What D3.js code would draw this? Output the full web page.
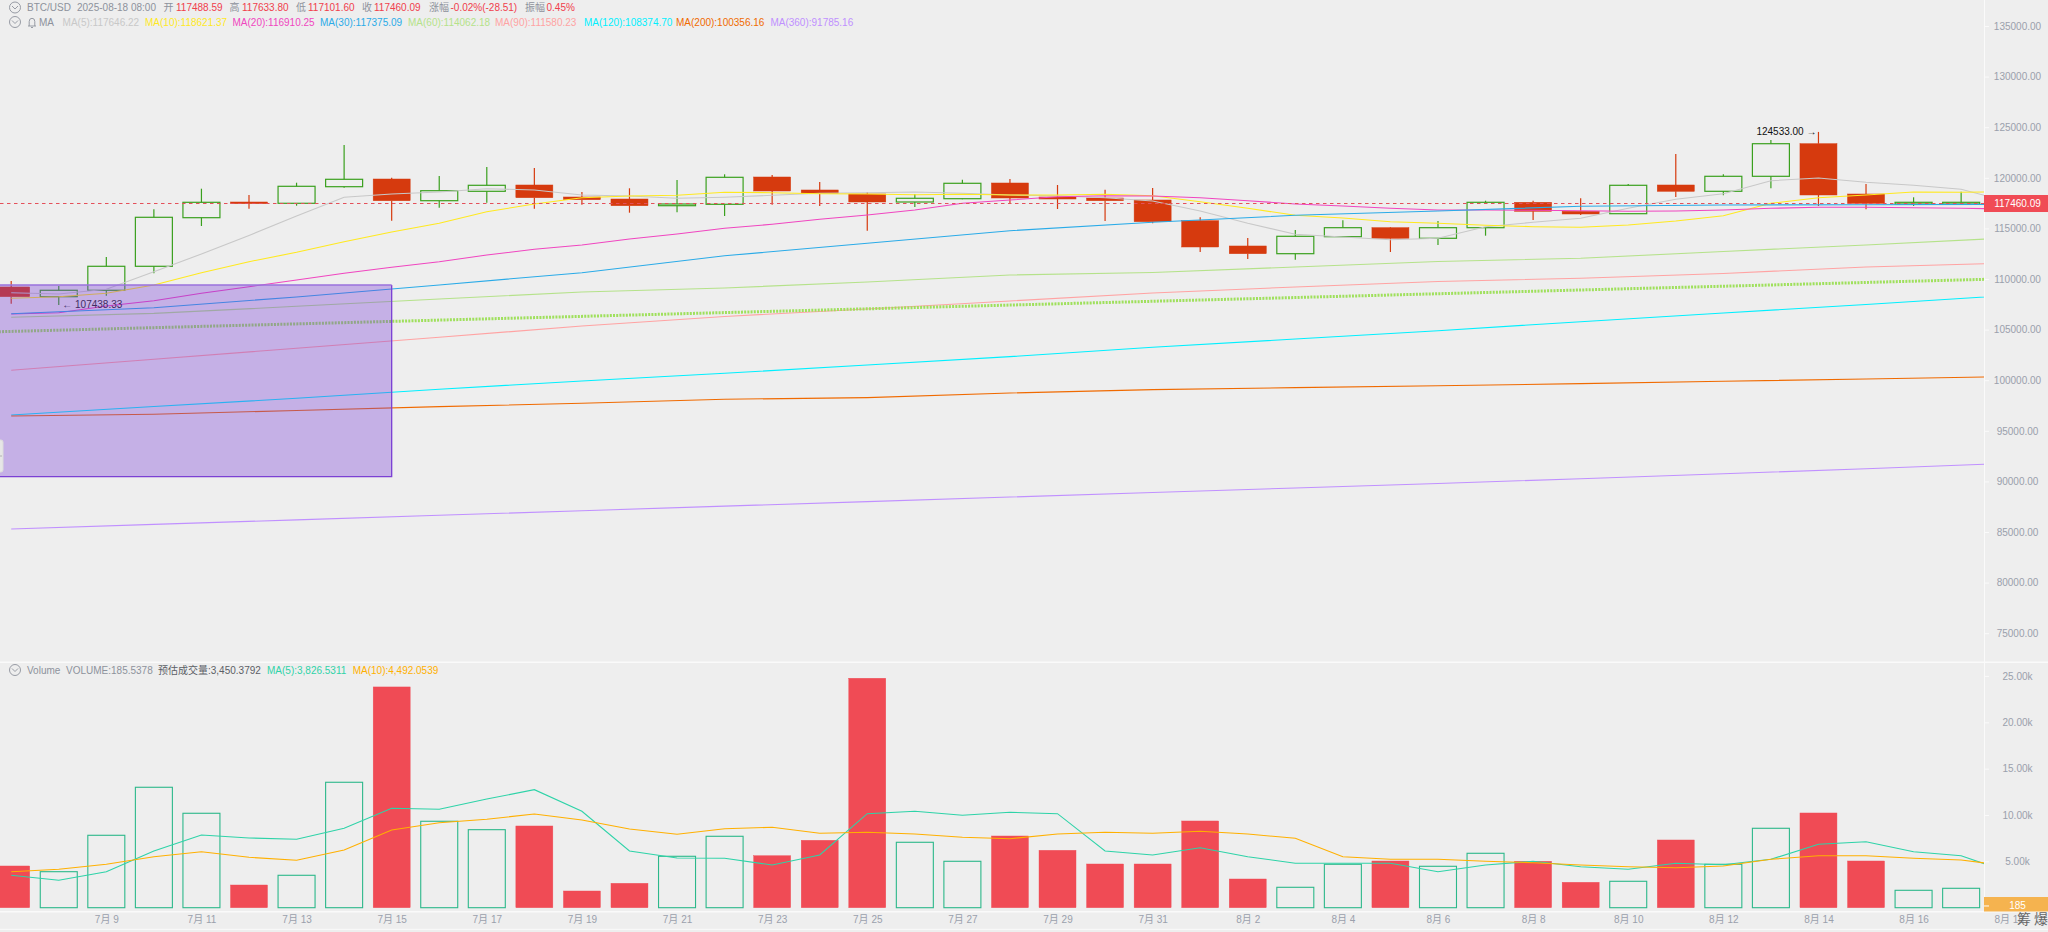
<!DOCTYPE html>
<html>
<head>
<meta charset="utf-8">
<script src="https://cdn.jsdelivr.net/npm/d3@7"></script>
<style>
  html, body { margin: 0; padding: 0; background: #eeeeee; overflow: hidden; }
  svg text { font-family: "Liberation Sans", "Noto Sans CJK SC", sans-serif; font-size: 10px; }
  .axis path, .axis line { stroke: #fafafa; }
  .axis text { fill: #9aa0ac; }
</style>
</head>
<body>
<div id="chart"></div>
<script>
// Daily candles, 7/7 to 8/18
var days = ['7月 7','7月 8','7月 9','7月 10','7月 11','7月 12','7月 13','7月 14','7月 15','7月 16','7月 17','7月 18','7月 19','7月 20','7月 21','7月 22','7月 23','7月 24','7月 25','7月 26','7月 27','7月 28','7月 29','7月 30','7月 31','8月 1','8月 2','8月 3','8月 4','8月 5','8月 6','8月 7','8月 8','8月 9','8月 10','8月 11','8月 12','8月 13','8月 14','8月 15','8月 16','8月 17','8月 18'];
var opens = [109211,108253,108885,111256,116058,117609,117481,119121,119881,117737,118666,119289,118103,117905,117243,117382,120079,118795,118399,117609,117935,119486,118103,118004,117807,115761,113262,112501,114181,115070,114023,115070,117579,116690,116453,119289,118666,120148,123369,118399,117411,117411,117488.59];
var highs = [109804,109310,112175,116888,118923,118301,119516,123241,120010,120178,121067,120968,118597,118963,119783,120346,120277,119585,118567,118399,119812,119881,119289,118824,118992,116097,114052,114843,115801,115139,115732,117737,117737,117975,119387,122351,120346,123735,124533,119387,118073,118627,117633.8];
var lows = [107561,107438.33,108351,110565,115238,116947,117243,119022,115761,117046,117540,116947,117342,116552,116591,116226,117342,117214,114773,117115,117876,117441,116917,115732,115505,112669,111977,111908,114151,112669,113361,114280,115831,116325,116423,118103,118271,118963,117214,116888,117214,117342,117101.6];
var closes = [108253,108885,111256,116097,117579,117441,119160,119852,117737,118725,119259,118034,117836,117243,117411,120049,118696,118469,117609,117975,119457,118004,117905,117737,115663,113163,112501,114220,115070,114023,115070,117579,116690,116423,119259,118666,120148,123369,118301,117481,117579,117579,117460.09];
var volumes = [4500,3884,7812,12991,10186,2449,3496,13531,23814,9323,8416,8815,1802,2633,5546,7704,5611,7272,24752,7057,5007,7736,6193,4715,4715,9355,3097,2201,4683,5039,4467,5870,5007,2741,2849,7305,4683,8567,10218,5039,1877,2093,185.5378];

// Fast moving averages, one value per day
var ma5 = [108648,108519,108984,110723,112471,114309,116226,118073,118399,118597,118923,118795,118301,118202,117975,118073,118271,118469,118528,118597,118469,118301,118231,118034,117708,116720,115505,114418,114151,113884,114023,115169,115603,115999,116987,117876,118429,119713,119980,119555,119259,118864,117646.22];
var ma10 = [108095,108253,108589,109409,110624,111711,112639,113687,114645,115505,116651,117411,118034,118202,118271,118567,118528,118429,118399,118330,118370,118301,118301,118370,118231,117639,116987,116295,116028,115663,115505,115307,115169,115109,115337,115732,116255,117481,118034,118301,118597,118567,118621.37];
var ma20 = [106543,106672,107334,107857,108589,109241,109903,110565,111157,111711,112373,112936,113361,113953,114447,115011,115406,115900,116325,116819,117481,117807,118133,118231,118202,118034,117737,117411,117214,116987,116819,116819,116789,116749,116690,116720,116819,116987,117085,117085,117046,116987,116910.25];

// Slow moving averages, read every third day
var slowDays = [0,3,6,9,12,15,18,21,24,27,30,33,36,39,42];
var ma30 = [106573,107166,108223,109409,110624,112294,113529,114773,115603,116295,116720,117184,117313,117342,117375.09];
var ma60 = [106217,106600,107300,108025,108717,109112,109705,110397,110644,111187,111730,112047,112718,113361,114062.18];
var ma90 = [100981,102068,103155,104241,105358,106296,107037,107828,108618,109211,109754,110071,110545,111187,111580.23];
var ma120 = [96565,97404,98215,99104,99924,100685,101505,102325,103253,104073,104893,105783,106642,107482,108374.7];
var ma200 = [96466,96634,97009,97385,97721,98116,98274,98738,99064,99262,99459,99657,99894,100121,100356.16];
var ma360 = [85301,85756,86201,86655,87100,87554,87999,88453,88898,89352,89797,90261,90755,91249,91785.16];

// Dotted trend line and the purple box, both drawn by the user
var trendDays = [-1, 42];
var trendPrices = [104696, 110031];
var boxDays = [-1, 8];
var boxPrices = [109409, 90469];

// Volume moving averages
var volMa5 = [3496,2956,3884,6118,7844,7521,7380,8567,10725,10617,11729,12732,10402,6118,5363,5330,4607,5686,10143,10402,9970,10294,10143,6118,5686,6474,5503,4791,4791,4791,3884,4607,5007,4424,4143,4791,4640,5222,6841,7121,6042,5611,3826.53];
var volMa10 = [3884,4143,4683,5503,6042,5438,5114,6226,8384,9172,9538,10110,9463,8492,7920,8524,8675,8028,8136,7952,7596,7445,7952,8136,8028,8244,7952,7488,5503,5222,5222,5007,4856,4607,4424,4316,4499,5222,5611,5611,5330,5147,4492.05];

// Axis ticks
var priceTicks = [135000,130000,125000,120000,115000,110000,105000,100000,95000,90000,85000,80000,75000];
var volumeTicks = [25000,20000,15000,10000,5000];
var dayTicks = d3.range(2, 43, 2);

var lastClose = 117460.09;
var lastVolume = 185.5378;
var hiLabel = '124533.00 →';
var loLabel = '← 107438.33';

// Legend texts
var maNames = ['MA(5):117646.22','MA(10):118621.37','MA(20):116910.25','MA(30):117375.09','MA(60):114062.18','MA(90):111580.23','MA(120):108374.70','MA(200):100356.16','MA(360):91785.16'];
var maColors = ['#c8c8c8','#ffe91f','#f046c0','#2aabe8','#b5e28a','#ffa3a3','#00f0ff','#f06a00','#c090ff'];

var WIDTH = 2048, HEIGHT = 932;
var AXIS_X = 1984;
var RED = '#d63a0e', GREEN = '#3aa01e';
var VOL_RED = '#f04b55', VOL_GREEN = '#2cb88a';
var CANDLE_W = 37;

var svg = d3.select('#chart').append('svg')
    .attr('width', WIDTH).attr('height', HEIGHT)
    .style('display', 'block');

var x = d3.scaleLinear().domain([0, 42]).range([11.2, 2008.7]);
var y = d3.scaleLinear().domain([135000, 75000]).range([26, 633.2]);
var yVol = d3.scaleLinear().domain([0, 25000]).range([907.7, 675.95]);

var defs = svg.append('defs');
defs.append('clipPath').attr('id', 'clip-main').append('rect')
    .attr('width', AXIS_X).attr('height', 662);
defs.append('clipPath').attr('id', 'clip-vol').append('rect')
    .attr('y', 662).attr('width', AXIS_X).attr('height', 250);

// Pane separators
svg.append('line').attr('x1', 0).attr('x2', WIDTH).attr('y1', 662.3).attr('y2', 662.3)
    .attr('stroke', '#fafafa').attr('stroke-width', 1.5);
svg.append('line').attr('x1', 0).attr('x2', WIDTH).attr('y1', 911.7).attr('y2', 911.7)
    .attr('stroke', '#fafafa').attr('stroke-width', 1.5);
svg.append('line').attr('x1', 0).attr('x2', WIDTH).attr('y1', 929.3).attr('y2', 929.3)
    .attr('stroke', '#fafafa').attr('stroke-width', 1);

var main = svg.append('g').attr('clip-path', 'url(#clip-main)');
var vol = svg.append('g').attr('clip-path', 'url(#clip-vol)');

// Candles
var idx = d3.range(days.length);
var isUp = function(i) { return closes[i] >= opens[i]; };
var candles = main.append('g').selectAll('g').data(idx).enter().append('g')
    .attr('stroke', function(i) { return isUp(i) ? GREEN : RED; });

candles.append('line')
    .attr('x1', function(i) { return x(i); }).attr('x2', function(i) { return x(i); })
    .attr('y1', function(i) { return y(highs[i]); })
    .attr('y2', function(i) { return y(Math.max(opens[i], closes[i])); })
    .attr('stroke-width', 1.2);
candles.append('line')
    .attr('x1', function(i) { return x(i); }).attr('x2', function(i) { return x(i); })
    .attr('y1', function(i) { return y(Math.min(opens[i], closes[i])); })
    .attr('y2', function(i) { return y(lows[i]); })
    .attr('stroke-width', 1.2);
candles.append('rect')
    .attr('x', function(i) { return x(i) - CANDLE_W / 2; })
    .attr('width', CANDLE_W)
    .attr('y', function(i) { return y(Math.max(opens[i], closes[i])); })
    .attr('height', function(i) { return Math.abs(y(opens[i]) - y(closes[i])); })
    .attr('fill', function(i) { return isUp(i) ? 'none' : RED; })
    .attr('stroke-width', function(i) { return isUp(i) ? 1.2 : 0.5; });

// Moving averages
var maLine = d3.line()
    .x(function(d) { return x(d[0]); })
    .y(function(d) { return y(d[1]); });

function zipDays(dayList, values) {
  return values.map(function(v, i) { return [dayList[i], v]; });
}

var maSeries = [
  zipDays(idx, ma5), zipDays(idx, ma10), zipDays(idx, ma20),
  zipDays(slowDays, ma30), zipDays(slowDays, ma60), zipDays(slowDays, ma90),
  zipDays(slowDays, ma120), zipDays(slowDays, ma200), zipDays(slowDays, ma360)
];

main.append('g').attr('fill', 'none').selectAll('path').data(maSeries).enter().append('path')
    .attr('d', maLine)
    .attr('stroke', function(d, i) { return maColors[i]; })
    .attr('stroke-width', 1.1);

// Dotted trend line
main.append('path')
    .attr('d', maLine(zipDays(trendDays, trendPrices)))
    .attr('fill', 'none')
    .attr('stroke', '#9fe05c')
    .attr('stroke-width', 3)
    .attr('stroke-dasharray', '2,1.2');

// Last price line
main.append('line')
    .attr('x1', 0).attr('x2', AXIS_X)
    .attr('y1', y(lastClose)).attr('y2', y(lastClose))
    .attr('stroke', '#e4505a').attr('stroke-width', 1)
    .attr('stroke-dasharray', '3.5,3.5');

// High and low markers
main.append('text').attr('x', x(38) - 2).attr('y', y(124533) + 3.5)
    .attr('text-anchor', 'end').attr('fill', '#111')
    .text(hiLabel);
main.append('text').attr('x', x(1) + 3.5).attr('y', y(107438.33) + 3.5)
    .attr('fill', '#222')
    .text(loLabel);

// Purple box goes on top of everything in the pane
var boxX1 = x(boxDays[1]), boxY0 = y(boxPrices[0]), boxY1 = y(boxPrices[1]);
main.append('rect')
    .attr('x', x(boxDays[0])).attr('y', boxY0)
    .attr('width', boxX1 - x(boxDays[0])).attr('height', boxY1 - boxY0)
    .attr('fill', 'rgba(120,60,215,0.35)');
main.append('path')
    .attr('d', 'M' + x(boxDays[0]) + ',' + boxY1 + 'H' + boxX1 + 'V' + boxY0)
    .attr('fill', 'none').attr('stroke', '#7b40d4').attr('stroke-width', 1.3);
main.append('line')
    .attr('x1', 0).attr('x2', boxX1).attr('y1', boxY0).attr('y2', boxY0)
    .attr('stroke', '#9a72dc').attr('stroke-width', 1.3);

// Sidebar handle on the left edge
main.append('rect').attr('x', -4).attr('y', 440).attr('width', 7).attr('height', 32).attr('rx', 2)
    .attr('fill', '#e6e6e6').attr('stroke', '#dcdcdc');
main.append('circle').attr('cx', 1).attr('cy', 456).attr('r', 0.8).attr('fill', '#aaa');

// Volume bars
vol.append('g').selectAll('rect').data(idx).enter().append('rect')
    .attr('x', function(i) { return x(i) - CANDLE_W / 2; })
    .attr('width', CANDLE_W)
    .attr('y', function(i) { return yVol(volumes[i]); })
    .attr('height', function(i) { return yVol(0) - yVol(volumes[i]); })
    .attr('fill', function(i) { return isUp(i) ? 'none' : VOL_RED; })
    .attr('stroke', function(i) { return isUp(i) ? VOL_GREEN : VOL_RED; })
    .attr('stroke-width', function(i) { return isUp(i) ? 1.1 : 0.4; });

var volLine = d3.line()
    .x(function(d, i) { return x(i); })
    .y(function(d) { return yVol(d); });
vol.append('path').attr('d', volLine(volMa5)).attr('fill', 'none')
    .attr('stroke', '#2ed3a8').attr('stroke-width', 1.1);
vol.append('path').attr('d', volLine(volMa10)).attr('fill', 'none')
    .attr('stroke', '#ffb000').attr('stroke-width', 1.1);

// Right axes
var priceAxis = d3.axisRight(y).tickValues(priceTicks).tickSize(5).tickFormat(d3.format('.2f'));
var gPrice = svg.append('g').attr('class', 'axis')
    .attr('transform', 'translate(' + AXIS_X + ',0)').call(priceAxis);
gPrice.select('.domain').attr('d', 'M0.5,0V662');

var volAxis = d3.axisRight(yVol).tickValues(volumeTicks).tickSize(5)
    .tickFormat(function(d) { return (d / 1000).toFixed(2) + 'k'; });
var gVol = svg.append('g').attr('class', 'axis')
    .attr('transform', 'translate(' + AXIS_X + ',0)').call(volAxis);
gVol.select('.domain').attr('d', 'M0.5,662V912');

svg.selectAll('.axis .tick text').attr('x', 33.5).attr('text-anchor', 'middle');

// Bottom axis
var dayAxis = d3.axisBottom(x).tickValues(dayTicks).tickSize(0).tickPadding(5)
    .tickFormat(function(i) { return days[i]; });
var gDays = svg.append('g').attr('class', 'axis')
    .attr('transform', 'translate(0,911)').call(dayAxis);
gDays.select('.domain').remove();

// Last value tags
svg.append('rect').attr('x', AXIS_X).attr('y', y(lastClose) - 8.5).attr('width', WIDTH - AXIS_X).attr('height', 17)
    .attr('fill', '#f04b55');
svg.append('text').attr('x', AXIS_X + 33.5).attr('y', y(lastClose) + 3.5)
    .attr('text-anchor', 'middle').attr('fill', '#fff').text(d3.format('.2f')(lastClose));

svg.append('rect').attr('x', AXIS_X).attr('y', 897).attr('width', WIDTH - AXIS_X).attr('height', 14.5)
    .attr('fill', '#f5b34f');
svg.append('line').attr('x1', AXIS_X).attr('x2', AXIS_X + 5)
    .attr('y1', yVol(lastVolume)).attr('y2', yVol(lastVolume)).attr('stroke', '#fff');
svg.append('text').attr('x', AXIS_X + 33.5).attr('y', yVol(lastVolume) + 3.5)
    .attr('text-anchor', 'middle').attr('fill', '#fff').text(Math.floor(lastVolume));

// The two corner buttons
svg.append('text').attr('x', 2024).attr('y', 924).attr('text-anchor', 'middle')
    .attr('fill', '#666').style('font-size', '14px').text('筹');
svg.append('text').attr('x', 2041).attr('y', 924).attr('text-anchor', 'middle')
    .attr('fill', '#666').style('font-size', '14px').text('爆');

// Legend rows
function chevron(cy) {
  svg.append('circle').attr('cx', 15).attr('cy', cy).attr('r', 5.5)
      .attr('fill', 'none').attr('stroke', '#8d929c').attr('stroke-width', 0.9);
  svg.append('path').attr('d', 'M12,' + (cy - 1.5) + 'L15,' + (cy + 1.5) + 'L18,' + (cy - 1.5))
      .attr('fill', 'none').attr('stroke', '#8d929c').attr('stroke-width', 0.9);
}
function label(xPos, yPos, str, color) {
  svg.append('text').attr('x', xPos).attr('y', yPos + 3.6).attr('fill', color).text(str);
}

var GREY = '#8d929c', UP_TXT = '#f0404c';
chevron(7.5);
label(27, 7.5, 'BTC/USD', GREY);
label(77, 7.5, '2025-08-18 08:00', GREY);
label(163.5, 7.5, '开', GREY);
label(176, 7.5, '117488.59', UP_TXT);
label(229.5, 7.5, '高', GREY);
label(242, 7.5, '117633.80', UP_TXT);
label(296, 7.5, '低', GREY);
label(308, 7.5, '117101.60', UP_TXT);
label(362, 7.5, '收', GREY);
label(374, 7.5, '117460.09', UP_TXT);
label(429, 7.5, '涨幅', GREY);
label(450.5, 7.5, '-0.02%(-28.51)', UP_TXT);
label(525, 7.5, '振幅', GREY);
label(546.5, 7.5, '0.45%', UP_TXT);

chevron(22);
svg.append('path')
    .attr('d', 'M28,26H36M29.2,26V21.5A2.8,3.2 0 0 1 34.8,21.5V26M31,27.5H33')
    .attr('fill', 'none').attr('stroke', GREY).attr('stroke-width', 0.9);
label(39, 22, 'MA', GREY);
var maLegendX = [62.6, 145, 232.5, 320, 408, 495, 584, 676, 770.4];
maNames.forEach(function(name, i) {
  label(maLegendX[i], 22, name, maColors[i]);
});

chevron(670);
label(27, 670, 'Volume', GREY);
label(66, 670, 'VOLUME:185.5378', GREY);
label(158, 670, '预估成交量:3,450.3792', '#5c5f66');
label(267, 670, 'MA(5):3,826.5311', '#2ed3a8');
label(352.7, 670, 'MA(10):4,492.0539', '#ffb000');
</script>
</body>
</html>
